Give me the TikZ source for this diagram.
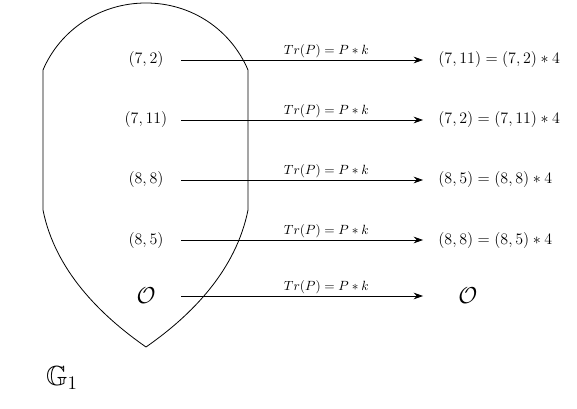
\documentclass[tikz,border=0pt]{standalone}
\usepackage{amsmath,amssymb}
\usetikzlibrary{arrows.meta}

\begin{document}
\begin{tikzpicture}[x=0.75pt,y=-0.75pt,>={Stealth[length=7pt,width=5pt]},
  line width=0.6pt,
  pt/.style={font=\large,inner sep=0pt,minimum width=52.5pt},
  img/.style={font=\large,anchor=west,inner ysep=0pt,inner xsep=11.25pt},
  tr/.style={font=\normalsize,above,inner sep=1pt,pos=0.6}]
  \useasboundingbox (0,0) rectangle (577,409);

  % the set G_1
  \draw (43,210) -- (43,70) .. controls (60,30) and (100,3) .. (146,3)
    .. controls (192,3) and (231,30) .. (248,70) -- (248,210)
    .. controls (236,270) and (192,315) .. (146,347)
    .. controls (100,315) and (55,270) .. (43,210) -- cycle;

  \node[pt] (p1) at (146,60) {$(7,2)$};
  \node[pt] (p2) at (146,120) {$(7,11)$};
  \node[pt] (p3) at (146,180) {$(8,8)$};
  \node[pt] (p4) at (146,240) {$(8,5)$};
  \node[pt,font=\LARGE] (p5) at (146,296) {$\mathcal{O}$};

  \node[img] (q1) at (423,60) {$(7,11)=(7,2)*4$};
  \node[img] (q2) at (423,120) {$(7,2)=(7,11)*4$};
  \node[img] (q3) at (423,180) {$(8,5)=(8,8)*4$};
  \node[img] (q4) at (423,240) {$(8,8)=(8,5)*4$};
  \node[img,font=\LARGE,inner xsep=26.25pt] (q5) at (423,296) {$\mathcal{O}$};

  \foreach \i in {1,...,5}
    \draw[->] (p\i) -- node[tr] {$Tr(P)=P*k$} (q\i);

  \node[font=\huge] (g1) at (62,378) {$\mathbb{G}_1$};
\end{tikzpicture}
\end{document}
